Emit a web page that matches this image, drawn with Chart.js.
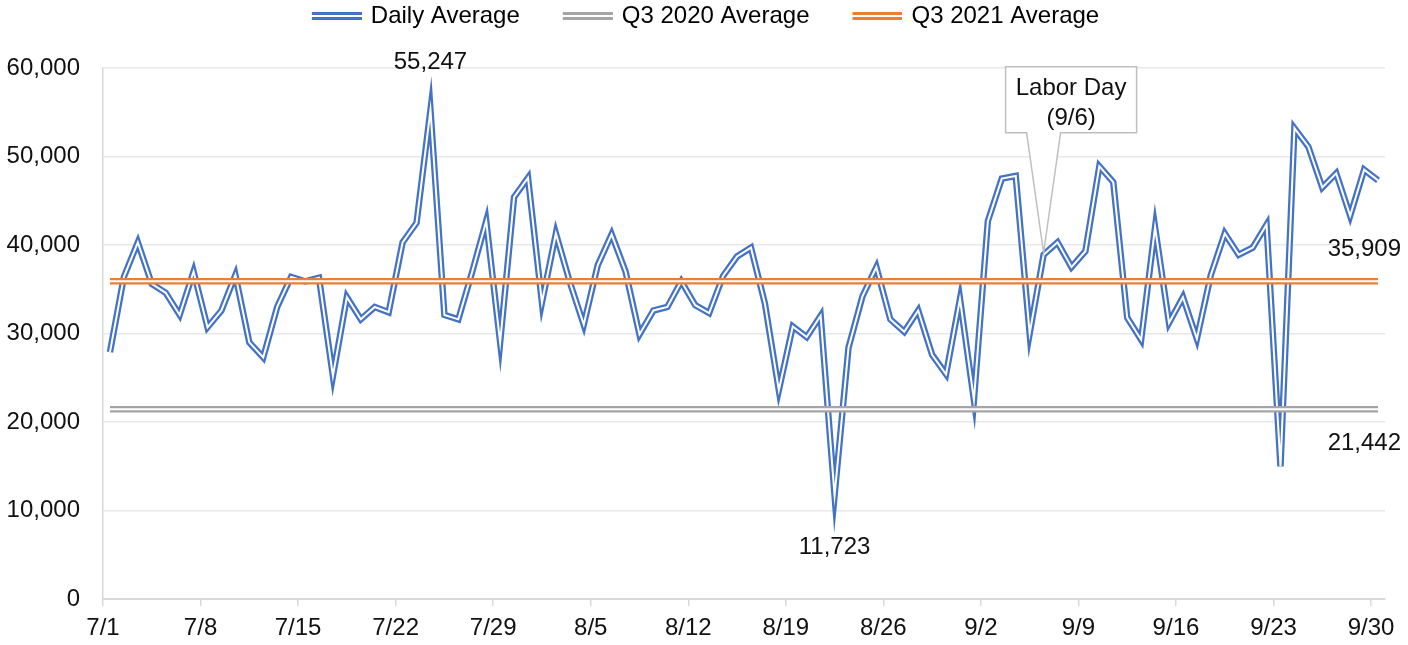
<!DOCTYPE html>
<html>
<head>
<meta charset="utf-8">
<title>Daily Average</title>
<script src="https://cdn.jsdelivr.net/npm/chart.js@4.4.1/dist/chart.umd.min.js"></script>
<style>
  html, body { margin: 0; padding: 0; background: #ffffff; }
  .chart-box { position: relative; width: 1408px; height: 645px; }
</style>
</head>
<body>
<div class="chart-box"><canvas id="dailyChart"></canvas></div>
<script>
// x ticks: day index counted from 7/1, and their labels
const tickDays = [0, 7, 14, 21, 28, 35, 42, 49, 56, 63, 70, 77, 84, 91];
const tickLabels = ['7/1', '7/8', '7/15', '7/22', '7/29', '8/5', '8/12', '8/19', '8/26', '9/2', '9/9', '9/16', '9/23', '9/30'];

// daily average, 7/1 .. 9/30
const dailyAverage = [
  27900, 36400, 40300, 35600, 34600, 32100, 37000,   // 7/1 - 7/7
  30700, 32600, 36600, 29000, 27300, 33000, 36400,   // 7/8 - 7/14
  35900, 36300, 25200, 34100, 31600, 33000, 32400,   // 7/15 - 7/21
  40300, 42500, 55247, 32100, 31600, 37000, 42700,   // 7/22 - 7/28
  29000, 45400, 47600, 33500, 41300, 35800, 31000,   // 7/29 - 8/4
  37700, 41200, 37000, 29900, 32600, 33000, 35900,   // 8/5 - 8/11
  33200, 32300, 36500, 38700, 39700, 33400, 23600,   // 8/12 - 8/18
  30800, 29600, 32000, 11723, 28400, 34200, 37500,   // 8/19 - 8/25
  31600, 30200, 32600, 27600, 25400, 33900, 22500,   // 8/26 - 9/1
  42700, 47500, 47800, 30000, 38900, 40300, 37500,   // 9/2 - 9/8
  39300, 48900, 47100, 31800, 29300, 42000, 31200,   // 9/9 - 9/15
  34100, 29400, 36600, 41300, 38900, 39700, 42300,   // 9/16 - 9/22
  15000, 53200, 51100, 46500, 48100, 43300, 48500,   // 9/23 - 9/29
  47300                                              // 9/30
];

const q3Avg2020 = 21442;
const q3Avg2021 = 35909;

const seriesNames = ['Daily Average', 'Q3 2020 Average', 'Q3 2021 Average'];
const seriesColors = ['#4472C4', '#A5A5A5', '#ED7D31'];

const holidayIndex = 67;
const holidayText = ['Labor Day', '(9/6)'];

const FONT = '"Liberation Sans", Arial, Helvetica, sans-serif';
const fmt = v => v.toLocaleString('en-US');

// points sit in the middle of each day slot
const dailyPoints = dailyAverage.map((v, i) => ({ x: i + 0.5, y: v }));
const flatLine = v => [{ x: 0.5, y: v }, { x: dailyAverage.length - 0.5, y: v }];

// excel style "double" line = wide coloured stroke with a thin white stroke on top
function doubleLine(label, data, color, order) {
  const base = { data, pointRadius: 0, pointHoverRadius: 0, tension: 0, fill: false, borderJoinStyle: 'miter' };
  return [
    Object.assign({ label, borderColor: color, borderWidth: 6.5, order: order + 1 }, base),
    Object.assign({ label: label + ' gap', borderColor: '#ffffff', borderWidth: 2, order }, base)
  ];
}

function legendLines(color) {
  const c = document.createElement('canvas');
  c.width = 56;
  c.height = 8;
  const g = c.getContext('2d');
  g.fillStyle = color;
  g.fillRect(6, 0, 50, 3);
  g.fillRect(6, 5, 50, 3);
  return c;
}
const legendIcons = seriesColors.map(legendLines);

const calloutPlugin = {
  id: 'callouts',
  beforeDatasetsDraw(chart) {
    // very sharp spikes get a bevel like in the original
    chart.ctx.miterLimit = 15;
  },
  afterDatasetsDraw(chart) {
    const { ctx, scales: { x, y } } = chart;
    const px = i => x.getPixelForValue(i + 0.5);
    ctx.save();
    ctx.font = '24px ' + FONT;
    ctx.fillStyle = '#111';
    ctx.textBaseline = 'middle';

    // highest and lowest day
    const hi = dailyAverage.indexOf(Math.max(...dailyAverage));
    const lo = dailyAverage.indexOf(Math.min(...dailyAverage));
    ctx.textAlign = 'center';
    ctx.fillText(fmt(dailyAverage[hi]), px(hi), y.getPixelForValue(dailyAverage[hi]) - 48);
    ctx.fillText(fmt(dailyAverage[lo]), px(lo), y.getPixelForValue(dailyAverage[lo]) + 52);

    // quarter averages at the right end
    const endX = px(dailyAverage.length - 1) + 23;
    ctx.textAlign = 'right';
    ctx.fillText(fmt(q3Avg2021), endX, y.getPixelForValue(q3Avg2021) - 32);
    ctx.fillText(fmt(q3Avg2020), endX, y.getPixelForValue(q3Avg2020) + 34);

    // Labor Day callout
    const hx = px(holidayIndex);
    const hy = y.getPixelForValue(dailyAverage[holidayIndex]) - 2;
    const left = hx - 38, right = hx + 93, top = hy - 186, bottom = hy - 120;
    ctx.beginPath();
    ctx.moveTo(left, top);
    ctx.lineTo(right, top);
    ctx.lineTo(right, bottom);
    ctx.lineTo(hx + 17, bottom);
    ctx.lineTo(hx, hy);
    ctx.lineTo(hx - 17, bottom);
    ctx.lineTo(left, bottom);
    ctx.closePath();
    ctx.fillStyle = '#ffffff';
    ctx.fill();
    ctx.strokeStyle = '#bfbfbf';
    ctx.lineWidth = 1.5;
    ctx.lineJoin = 'miter';
    ctx.stroke();

    ctx.fillStyle = '#111';
    ctx.textAlign = 'center';
    ctx.fillText(holidayText[0], (left + right) / 2, hy - 164);
    ctx.fillText(holidayText[1], (left + right) / 2, hy - 134);
    ctx.restore();
  }
};

Chart.defaults.font.family = FONT;
Chart.defaults.font.size = 24;
Chart.defaults.color = '#111';

new Chart(document.getElementById('dailyChart'), {
  type: 'line',
  data: {
    datasets: [
      ...doubleLine(seriesNames[0], dailyPoints, seriesColors[0], 5),
      ...doubleLine(seriesNames[1], flatLine(q3Avg2020), seriesColors[1], 3),
      ...doubleLine(seriesNames[2], flatLine(q3Avg2021), seriesColors[2], 1)
    ]
  },
  options: {
    responsive: true,
    maintainAspectRatio: false,
    devicePixelRatio: 1,
    animation: false,
    layout: { padding: { top: -36, left: 0, right: 0, bottom: 0 } },
    scales: {
      x: {
        type: 'linear',
        min: 0,
        max: dailyAverage.length,
        afterBuildTicks: scale => { scale.ticks = tickDays.map(v => ({ value: v })); },
        afterFit: scale => { scale.height = 46; scale.paddingRight = 23; scale.paddingLeft = 0; },
        ticks: {
          autoSkip: false,
          maxRotation: 0,
          padding: 8,
          callback: (value, index) => tickLabels[index]
        },
        grid: { drawOnChartArea: false, drawTicks: true, tickLength: 7, color: '#d9d9d9', lineWidth: 1.5 },
        border: { display: true, color: '#d9d9d9', width: 2 }
      },
      y: {
        min: 0,
        max: 60000,
        afterFit: scale => { scale.width = 103; scale.paddingTop = 68; scale.paddingBottom = 0; },
        ticks: { stepSize: 10000, padding: 23, callback: v => fmt(v) },
        grid: { drawTicks: false, color: '#e8e8e8', lineWidth: 1.5 },
        border: { display: true, color: '#d9d9d9', width: 1.5 }
      }
    },
    plugins: {
      // empty title used only as a spacer between legend and plot
      title: { display: true, text: '', weight: 500, padding: 0, font: { size: 30, lineHeight: 1 } },
      legend: {
        position: 'top',
        onClick: null,
        labels: {
          usePointStyle: true,
          pointStyleWidth: 50,
          boxHeight: 24,
          padding: 40,
          color: '#111',
          generateLabels: () => seriesNames.map((name, i) => ({
            text: name,
            pointStyle: legendIcons[i],
            fillStyle: seriesColors[i],
            strokeStyle: seriesColors[i],
            lineWidth: 0,
            hidden: false,
            datasetIndex: i * 2
          }))
        }
      },
      tooltip: { enabled: false }
    }
  },
  plugins: [calloutPlugin]
});
</script>
</body>
</html>
